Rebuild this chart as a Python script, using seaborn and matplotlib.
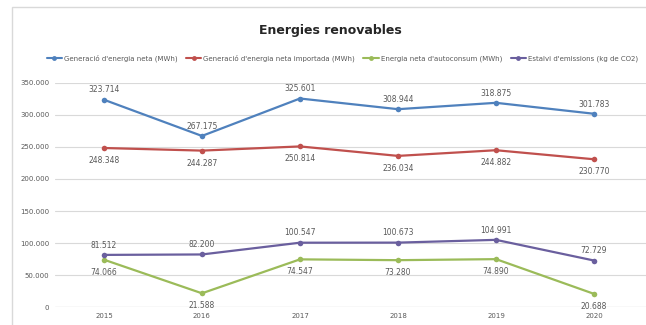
import matplotlib
matplotlib.use("Agg")
import matplotlib.pyplot as plt
import seaborn as sns
import pandas as pd
from matplotlib.patches import Rectangle
from matplotlib.lines import Line2D

years = ["2015", "2016", "2017", "2018", "2019", "2020"]
series_names = [
    "Generació d'energia neta (MWh)",
    "Generació d'energia neta importada (MWh)",
    "Energia neta d'autoconsum (MWh)",
    "Estalvi d'emissions (kg de CO2)",
]
gen_neta = [323714, 267175, 325601, 308944, 318875, 301783]
gen_importada = [248348, 244287, 250814, 236034, 244882, 230770]
autoconsum = [74066, 21588, 74547, 73280, 74890, 20688]
emissions = [81512, 82200, 100547, 100673, 104991, 72729]
y_ticks = [0, 50000, 100000, 150000, 200000, 250000, 300000, 350000]

colors = ["#4F81BD", "#C0504D", "#9BBB59", "#6A5F9E"]
label_pos = ["above", "below", "below", "above"]

all_vals = [gen_neta, gen_importada, autoconsum, emissions]
rows = []
for name, vals in zip(series_names, all_vals):
    for i, (yr, v) in enumerate(zip(years, vals)):
        rows.append({"idx": i, "year": yr, "value": v, "serie": name})
df = pd.DataFrame(rows)

sns.set_theme(style="white")
plt.rcParams['font.family'] = ['DejaVu Sans']

fig = plt.figure(figsize=(6.46, 3.25), dpi=100)
ax = fig.add_axes([0.085, 0.055, 0.918, 0.69])

sns.lineplot(data=df, x="idx", y="value", hue="serie", palette=colors,
             marker="o", markersize=4, markeredgewidth=0, linewidth=1.6,
             ax=ax, legend=False)

def fmt(v):
    return f"{v:,}".replace(",", ".")

for name, vals, c, pos in zip(series_names, all_vals, colors, label_pos):
    for i, v in enumerate(vals):
        dy = 7 if pos == "above" else -9
        ax.annotate(fmt(v), (i, v), xytext=(0, dy), textcoords="offset points",
                    ha="center", va="center", fontsize=5.5, color="#595959")

ax.set_xlim(-0.5, 5.55)
ax.set_ylim(0, 350000)
ax.set_yticks(y_ticks)
ax.set_yticklabels([fmt(t) for t in y_ticks], fontsize=5, color="#595959")
ax.set_xticks(range(len(years)))
ax.set_xticklabels(years, fontsize=5, color="#595959")
ax.tick_params(axis="both", length=0, pad=4)
ax.set_xlabel("")
ax.set_ylabel("")
ax.grid(axis="y", color="#D9D9D9", linewidth=0.8)
ax.set_axisbelow(True)
for s in ax.spines.values():
    s.set_visible(False)
ax.axhline(0, color="#D9D9D9", linewidth=0.9, zorder=0)

handles = [Line2D([0], [0], color=c, marker="o", markersize=3.5, markeredgewidth=0,
                  linewidth=1.5) for c in colors]
fig.legend(handles, series_names, loc="center", bbox_to_anchor=(0.53, 0.822),
           ncol=4, frameon=False, fontsize=5, handlelength=2.2, columnspacing=1.2,
           handletextpad=0.3, labelcolor="#595959")

fig.text(0.512, 0.905, "Energies renovables", ha="center", va="center",
         fontsize=9, color="#262626", fontweight="bold")

fig.patches.append(Rectangle((0.019, -0.02), 1.0, 0.998, transform=fig.transFigure,
                             fill=False, edgecolor="#D9D9D9", linewidth=1.0))

fig.savefig("out.png", dpi=100)
